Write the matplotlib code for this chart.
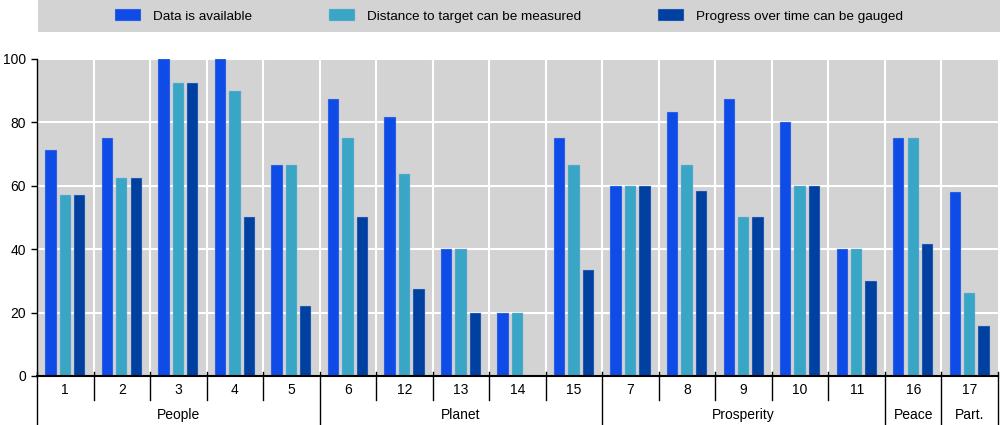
import matplotlib.pyplot as plt
import matplotlib.transforms as mtransforms
from matplotlib.patches import Rectangle
import numpy as np

plt.rcParams['font.family'] = ['Liberation Sans', 'DejaVu Sans']

goals = ['1', '2', '3', '4', '5', '6', '12', '13', '14', '15', '7', '8', '9', '10', '11', '16', '17']
pillars = ['People', 'Planet', 'Prosperity', 'Peace', 'Part.']
pillar_sizes = [5, 5, 5, 1, 1]

available = [71.4, 75.0, 100.0, 100.0, 66.7, 87.5, 81.8, 40.0, 20.0, 75.0,
             60.0, 83.3, 87.5, 80.0, 40.0, 75.0, 57.9]
distance = [57.1, 62.5, 92.3, 90.0, 66.7, 75.0, 63.6, 40.0, 20.0, 66.7,
            60.0, 66.7, 50.0, 60.0, 40.0, 75.0, 26.3]
progress = [57.1, 62.5, 92.3, 50.0, 22.2, 50.0, 27.3, 20.0, 0.0, 33.3,
            60.0, 58.3, 50.0, 60.0, 30.0, 41.7, 15.8]

series = ['Data is available', 'Distance to target can be measured', 'Progress over time can be gauged']
colors = ['#0F4BE6', '#3AA6C6', '#0040A0']

fig = plt.figure(figsize=(10, 4.25), dpi=100)
ax = fig.add_axes([0.037, 0.1153, 0.961, 0.7459])
ax.set_facecolor('#D3D3D3')

x = np.arange(len(goals))
off = 0.255
w = 0.2
bars = []
for k, vals in enumerate([available, distance, progress]):
    b = ax.bar(x + (k - 1) * off, vals, width=w, color=colors[k], zorder=3,
               edgecolor='#9db4e0', linewidth=0.3, label=series[k])
    bars.append(b)

ax.set_xlim(-0.5, len(goals) - 0.5)
ax.set_ylim(0, 100)
ax.set_yticks([0, 20, 40, 60, 80, 100])
ax.tick_params(axis='y', labelsize=10, length=4, width=1, direction='out', pad=4)
ax.set_xticks([])
ax.grid(axis='y', color='white', linewidth=1.5, zorder=1)
for xb in np.arange(0.5, len(goals) - 0.5):
    ax.axvline(xb, color='white', linewidth=1.5, zorder=1)

for s in ['top', 'right']:
    ax.spines[s].set_visible(False)
ax.spines['left'].set_linewidth(1)
ax.spines['bottom'].set_linewidth(1.5)
ax.spines['bottom'].set_zorder(4)

trans = mtransforms.blended_transform_factory(ax.transData, ax.transAxes)

# goal labels and separators
for i, g in enumerate(goals):
    ax.text(i, -0.045, g, transform=trans, ha='center', va='center', fontsize=10)

major = np.cumsum([0] + pillar_sizes) - 0.5
for xb in np.arange(-0.5, len(goals)):
    bottom = -0.155 if xb in major else -0.077
    ax.plot([xb, xb], [0.012, bottom], transform=trans, color='black',
            linewidth=1, clip_on=False, zorder=5)

for p, a, b in zip(pillars, major[:-1], major[1:]):
    ax.text((a + b) / 2, -0.122, p, transform=trans, ha='center', va='center', fontsize=10)

# legend band
fig.patches.append(Rectangle((0.038, 0.925), 0.962, 0.075, transform=fig.transFigure,
                             facecolor='#D3D3D3', edgecolor='none', zorder=0))
fig.legend(handles=bars, labels=series, loc='center left', bbox_to_anchor=(0.115, 0.962),
           ncol=3, frameon=False, fontsize=9.7, handlelength=1.93, handleheight=0.96,
           handletextpad=0.89, columnspacing=5.7, borderaxespad=0, borderpad=0)

fig.savefig('out.png', dpi=100)
